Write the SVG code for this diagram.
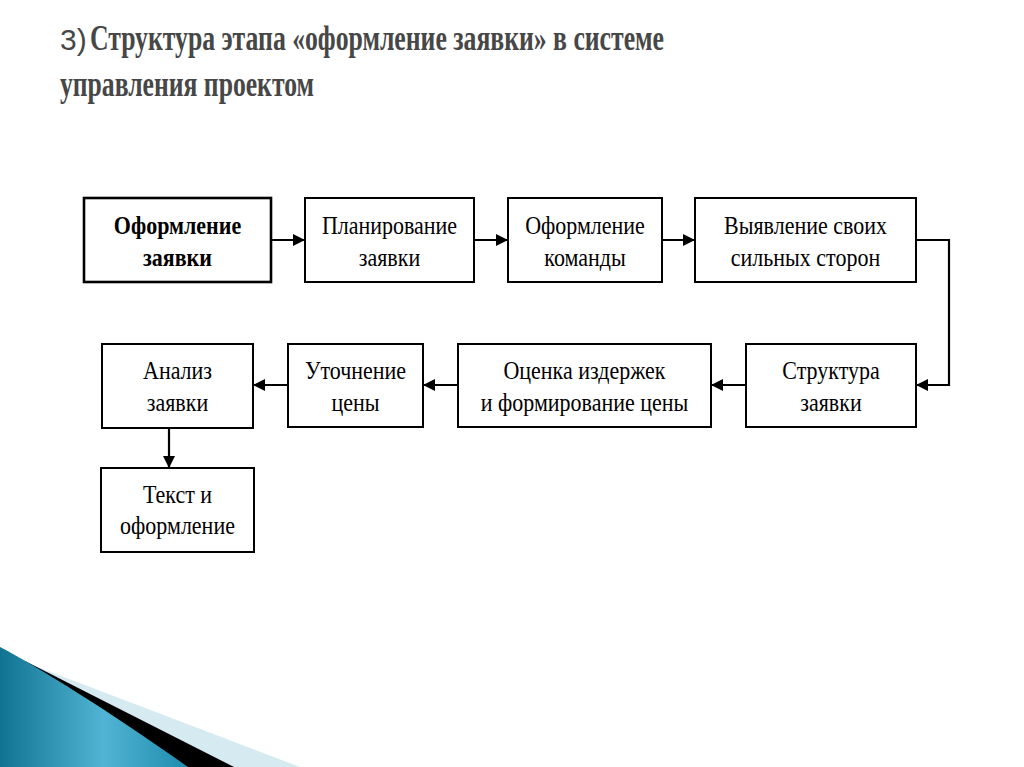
<svg xmlns="http://www.w3.org/2000/svg" width="1024" height="767" viewBox="0 0 1024 767">
<style>
.box{fill:#fff;stroke:#000;stroke-width:2}
.box1{fill:#fff;stroke:#000;stroke-width:2.6}
.t{font-family:"Liberation Serif","Times New Roman",serif;font-size:22px;fill:#000;text-anchor:middle}
.tb{font-weight:bold}
.ttl{font-family:"Liberation Serif","Times New Roman",serif;font-weight:bold;font-size:32px;fill:#474747}
.ttls{font-family:"Liberation Sans",Arial,sans-serif;font-size:30px;fill:#474747}
.c{fill:none;stroke:#000;stroke-width:2.2}
</style>
<defs>
<marker id="ah" viewBox="0 0 12 12" refX="12" refY="6" markerWidth="12" markerHeight="12" markerUnits="userSpaceOnUse" orient="auto">
<path d="M0,0 L12,6 L0,12 Z" fill="#000"/>
</marker>
<linearGradient id="teal" x1="0" y1="0" x2="1" y2="0">
<stop offset="0" stop-color="#0f7391"/>
<stop offset="0.55" stop-color="#52b4d4"/>
<stop offset="1" stop-color="#1d8cae"/>
</linearGradient>
</defs>
<rect width="1024" height="767" fill="#fff"/>
<g id="title">
<text class="ttls" x="60" y="50">3)</text>
<text class="ttl" x="90" y="50" transform="translate(0,-7) scale(1,1.14)" textLength="574" lengthAdjust="spacingAndGlyphs">Структура этапа «оформление заявки» в системе</text>
<text class="ttl" x="60" y="84" transform="translate(0,0) scale(1,1.14)" textLength="254" lengthAdjust="spacingAndGlyphs">управления проектом</text>
</g>
<g id="decoration">
<path d="M35,666 L300,767 L0,767 Z" fill="#d6eaf1"/>
<path d="M25,661 L234,767 L150,767 Z" fill="#000"/>
<path d="M0,647 C40,668 110,712 188,767 L0,767 Z" fill="url(#teal)"/>
</g>
<g id="connectors">
<line class="c" x1="271" y1="240" x2="305" y2="240" marker-end="url(#ah)"/>
<line class="c" x1="474" y1="240" x2="508" y2="240" marker-end="url(#ah)"/>
<line class="c" x1="662" y1="240" x2="695" y2="240" marker-end="url(#ah)"/>
<polyline class="c" points="916,240 949,240 949,385 916,385" marker-end="url(#ah)"/>
<line class="c" x1="746" y1="385" x2="711" y2="385" marker-end="url(#ah)"/>
<line class="c" x1="458" y1="385" x2="423" y2="385" marker-end="url(#ah)"/>
<line class="c" x1="288" y1="385" x2="253" y2="385" marker-end="url(#ah)"/>
<line class="c" x1="169" y1="428" x2="169" y2="468" marker-end="url(#ah)"/>
</g>
<g id="n1">
<rect class="box1" x="84" y="198" width="187" height="84"/>
<text class="t tb" transform="translate(177.5,234) scale(1,1.15)">Оформление</text>
<text class="t tb" transform="translate(177.5,266) scale(1,1.15)">заявки</text>
</g>
<g id="n2">
<rect class="box" x="305" y="198" width="169" height="84"/>
<text class="t" transform="translate(389.5,234) scale(1,1.15)">Планирование</text>
<text class="t" transform="translate(389.5,266) scale(1,1.15)">заявки</text>
</g>
<g id="n3">
<rect class="box" x="508" y="198" width="154" height="84"/>
<text class="t" transform="translate(585,234) scale(1,1.15)">Оформление</text>
<text class="t" transform="translate(585,266) scale(1,1.15)">команды</text>
</g>
<g id="n4">
<rect class="box" x="695" y="198" width="221" height="84"/>
<text class="t" transform="translate(805.5,234) scale(1,1.15)">Выявление своих</text>
<text class="t" transform="translate(805.5,266) scale(1,1.15)">сильных сторон</text>
</g>
<g id="n5">
<rect class="box" x="746" y="344" width="170" height="83"/>
<text class="t" transform="translate(831,379) scale(1,1.15)">Структура</text>
<text class="t" transform="translate(831,411) scale(1,1.15)">заявки</text>
</g>
<g id="n6">
<rect class="box" x="458" y="344" width="253" height="83"/>
<text class="t" transform="translate(584.5,379) scale(1,1.15)">Оценка издержек</text>
<text class="t" transform="translate(584.5,411) scale(1,1.15)">и формирование цены</text>
</g>
<g id="n7">
<rect class="box" x="288" y="344" width="135" height="83"/>
<text class="t" transform="translate(355.5,379) scale(1,1.15)">Уточнение</text>
<text class="t" transform="translate(355.5,411) scale(1,1.15)">цены</text>
</g>
<g id="n8">
<rect class="box" x="102" y="344" width="151" height="84"/>
<text class="t" transform="translate(177.5,379) scale(1,1.15)">Анализ</text>
<text class="t" transform="translate(177.5,411) scale(1,1.15)">заявки</text>
</g>
<g id="n9">
<rect class="box" x="101" y="468" width="153" height="84"/>
<text class="t" transform="translate(177.5,503) scale(1,1.15)">Текст и</text>
<text class="t" transform="translate(177.5,534) scale(1,1.15)">оформление</text>
</g>
</svg>
